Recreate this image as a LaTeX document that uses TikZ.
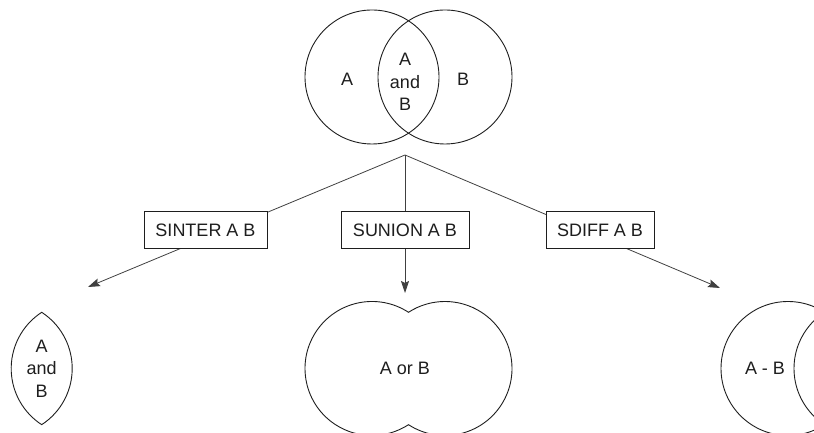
\documentclass[tikz,border=0pt]{standalone}
\usepackage{fontspec}
\setmainfont{Liberation Sans}
\usetikzlibrary{arrows.meta}
\definecolor{linegray}{HTML}{404040}
\definecolor{ink}{HTML}{1E1E1E}
\tikzset{
  shapeline/.style={draw=ink, line width=0.9pt},
  conn/.style={draw=linegray, line width=0.8pt, -{Stealth[length=12pt,width=8pt,inset=2pt]}},
  opbox/.style={draw=ink, line width=1pt, fill=white, minimum height=37pt, inner sep=0pt, text=ink, font=\fontsize{18}{21.6}\selectfont},
  lbl/.style={text=ink, inner sep=0pt, font=\fontsize{18}{22.5}\selectfont, align=center},
}
\begin{document}
\begin{tikzpicture}[x=1pt,y=1pt]
\useasboundingbox (0,0) rectangle (814,433);
\clip (0,0) rectangle (814,433);
% top Venn diagram
\draw[shapeline] (372,356) circle (67);
\draw[shapeline] (445,356) circle (67);
\node[lbl] (la) at (347,354) {A};
\node[lbl] (lb) at (463,354) {B};
\node[lbl] (lab) at (405,351) {A\\and\\B};
% connectors
\coordinate (root) at (405,278);
\coordinate (t1) at (88,146);
\coordinate (t2) at (405,140);
\coordinate (t3) at (720,145);
\draw[conn] (root) -- (t1);
\draw[conn] (root) -- (t2);
\draw[conn] (root) -- (t3);
\node[opbox, minimum width=123pt] (sinter) at (205.5,202.5) {SINTER A B};
\node[opbox, minimum width=128pt] (sunion) at (405,202.5) {SUNION A B};
\node[opbox, minimum width=108pt] (sdiff) at (600,202.5) {SDIFF A B};
% intersection lens
\draw[shapeline] (41.7,120.7) arc[start angle=123, end angle=237, radius=67]
  arc[start angle=-57, end angle=57, radius=67] -- cycle;
\node[lbl] (rinter) at (41.7,64.5) {A\\and\\B};
% union shape
\draw[shapeline] (408.5,120.7) arc[start angle=57, end angle=303, radius=67]
  arc[start angle=-123, end angle=123, radius=67] -- cycle;
\node[lbl] (runion) at (405,65) {A or B};
% difference
\draw[shapeline] (788,64.5) circle (67);
\draw[shapeline] (861,64.5) circle (67);
\node[lbl] (rdiff) at (765,65) {A - B};
\end{tikzpicture}
\end{document}
